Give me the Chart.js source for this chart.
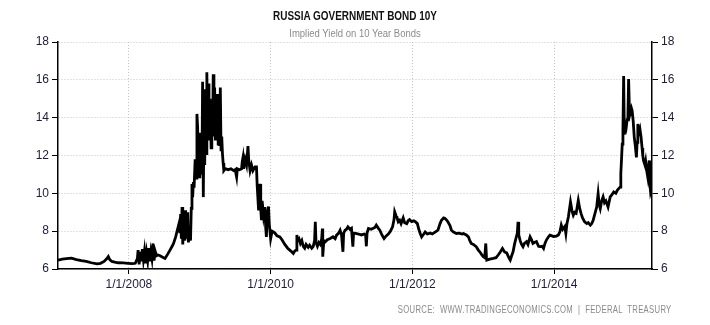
<!DOCTYPE html>
<html>
<head>
<meta charset="utf-8">
<script src="https://cdn.jsdelivr.net/npm/chart.js@4/dist/chart.umd.min.js"></script>
<style>
  body { margin: 0; background: #fff; }
  #wrap { position: relative; width: 710px; height: 325px; }
  #title { position: absolute; left: 0; width: 710px; top: 9px; text-align: center; font: bold 12px "Liberation Sans", Arial, sans-serif; color: #111; transform: scaleX(0.83); }
  #subtitle { position: absolute; left: 0; width: 710px; top: 28px; text-align: center; font: 10px "Liberation Sans", Arial, sans-serif; color: #8c8c8c; transform: scaleX(0.95); }
  #source { position: absolute; right: 38px; top: 304px; font: 10px "Liberation Sans", Arial, sans-serif; color: #8a8a8a; letter-spacing: 0.4px; white-space: pre; transform: scaleX(0.77); transform-origin: right center; }
</style>
</head>
<body>
<div id="wrap">
  <canvas id="bondChart" width="710" height="325"></canvas>
  <div id="title"></div>
  <div id="subtitle"></div>
  <div id="source"></div>
</div>
<script>
// chart text
const titleText = 'RUSSIA GOVERNMENT BOND 10Y';
const subtitleText = 'Implied Yield on 10 Year Bonds';
const sourceText = 'SOURCE:  WWW.TRADINGECONOMICS.COM  |  FEDERAL  TREASURY';

// axes
const xTicks = [2008, 2010, 2012, 2014];
const yTicks = [6, 8, 10, 12, 14, 16, 18];
const xMin = 2007, xMax = 2015.38;

// series: decimal year and yield (%)
const years = [
  2007.00, 2007.06, 2007.12, 2007.19, 2007.26, 2007.33, 2007.40, 2007.47, 2007.55, 2007.60,
  2007.65, 2007.69, 2007.71, 2007.73, 2007.76, 2007.80, 2007.85, 2007.92, 2007.99, 2008.05,
  2008.09, 2008.12, 2008.13, 2008.145, 2008.16, 2008.175, 2008.19, 2008.205, 2008.22, 2008.235,
  2008.25, 2008.265, 2008.28, 2008.295, 2008.31, 2008.325, 2008.34, 2008.355, 2008.37, 2008.39,
  2008.41, 2008.44, 2008.47, 2008.51, 2008.55, 2008.58, 2008.61, 2008.63, 2008.66, 2008.68,
  2008.70, 2008.71, 2008.72, 2008.73, 2008.74, 2008.75, 2008.76, 2008.775, 2008.79, 2008.80,
  2008.815, 2008.83, 2008.84, 2008.855, 2008.87, 2008.88, 2008.89, 2008.90, 2008.91, 2008.92,
  2008.935, 2008.95, 2008.96, 2008.97, 2008.98, 2008.99, 2009.00, 2009.015, 2009.03, 2009.04,
  2009.05, 2009.06, 2009.07, 2009.08, 2009.09, 2009.10, 2009.11, 2009.12, 2009.13, 2009.145,
  2009.16, 2009.17, 2009.18, 2009.19, 2009.20, 2009.21, 2009.22, 2009.23, 2009.24, 2009.25,
  2009.26, 2009.27, 2009.28, 2009.29, 2009.30, 2009.31, 2009.32, 2009.33, 2009.34, 2009.36,
  2009.40, 2009.44, 2009.48, 2009.50, 2009.52, 2009.53, 2009.56, 2009.59, 2009.60, 2009.61,
  2009.62, 2009.64, 2009.66, 2009.68, 2009.69, 2009.71, 2009.73, 2009.75, 2009.78, 2009.80,
  2009.81, 2009.83, 2009.84, 2009.85, 2009.86, 2009.87, 2009.88, 2009.90, 2009.92, 2009.93,
  2009.94, 2009.95, 2009.97, 2009.98, 2010.00, 2010.02, 2010.04, 2010.06, 2010.09, 2010.13,
  2010.16, 2010.20, 2010.24, 2010.27, 2010.30, 2010.32, 2010.34, 2010.36, 2010.37, 2010.38,
  2010.40, 2010.42, 2010.44, 2010.46, 2010.48, 2010.50, 2010.53, 2010.55, 2010.58, 2010.60,
  2010.62, 2010.63, 2010.64, 2010.66, 2010.68, 2010.70, 2010.72, 2010.73, 2010.735, 2010.75,
  2010.77, 2010.80, 2010.84, 2010.88, 2010.91, 2010.93, 2010.96, 2010.98, 2011.00, 2011.02,
  2011.03, 2011.05, 2011.07, 2011.09, 2011.12, 2011.14, 2011.16, 2011.17, 2011.20, 2011.24,
  2011.28, 2011.32, 2011.34, 2011.35, 2011.36, 2011.38, 2011.42, 2011.47, 2011.49, 2011.52,
  2011.54, 2011.57, 2011.60, 2011.63, 2011.66, 2011.69, 2011.72, 2011.74, 2011.75, 2011.77,
  2011.78, 2011.80, 2011.82, 2011.84, 2011.87, 2011.89, 2011.92, 2011.94, 2011.96, 2011.99,
  2012.02, 2012.04, 2012.07, 2012.09, 2012.11, 2012.13, 2012.16, 2012.18, 2012.21, 2012.25,
  2012.28, 2012.32, 2012.36, 2012.39, 2012.41, 2012.44, 2012.46, 2012.48, 2012.50, 2012.53,
  2012.55, 2012.58, 2012.62, 2012.66, 2012.70, 2012.72, 2012.76, 2012.79, 2012.81, 2012.83,
  2012.86, 2012.90, 2012.93, 2012.95, 2012.98, 2013.00, 2013.02, 2013.035, 2013.045, 2013.05,
  2013.09, 2013.14, 2013.18, 2013.21, 2013.24, 2013.27, 2013.30, 2013.33, 2013.36, 2013.38,
  2013.40, 2013.42, 2013.44, 2013.46, 2013.48, 2013.49, 2013.50, 2013.52, 2013.54, 2013.56,
  2013.58, 2013.61, 2013.63, 2013.66, 2013.68, 2013.70, 2013.72, 2013.75, 2013.78, 2013.80,
  2013.83, 2013.85, 2013.87, 2013.89, 2013.92, 2013.94, 2013.97, 2013.99, 2014.03, 2014.06,
  2014.08, 2014.10, 2014.12, 2014.15, 2014.165, 2014.18, 2014.20, 2014.23, 2014.25, 2014.27,
  2014.29, 2014.31, 2014.33, 2014.34, 2014.36, 2014.38, 2014.40, 2014.43, 2014.46, 2014.48,
  2014.51, 2014.53, 2014.55, 2014.58, 2014.60, 2014.62, 2014.635, 2014.65, 2014.67, 2014.69,
  2014.71, 2014.73, 2014.76, 2014.79, 2014.81, 2014.84, 2014.87, 2014.89, 2014.91, 2014.93,
  2014.94, 2014.95, 2014.96, 2014.97, 2014.98, 2014.99, 2015.00, 2015.01, 2015.02, 2015.03,
  2015.04, 2015.05, 2015.06, 2015.07, 2015.09, 2015.10, 2015.115, 2015.13, 2015.145, 2015.16,
  2015.17, 2015.18, 2015.195, 2015.21, 2015.225, 2015.24, 2015.25, 2015.26, 2015.28, 2015.29,
  2015.305, 2015.32, 2015.33, 2015.34, 2015.35, 2015.36, 2015.37
];
const yields = [
  6.47, 6.52, 6.55, 6.57, 6.50, 6.44, 6.40, 6.33, 6.27, 6.30,
  6.40, 6.55, 6.66, 6.50, 6.40, 6.36, 6.33, 6.32, 6.30, 6.28,
  6.30, 6.55, 7.00, 6.25, 6.90, 6.40, 7.05, 6.50, 6.95, 6.30,
  6.85, 6.45, 7.10, 6.40, 6.90, 6.55, 7.35, 6.45, 6.95, 6.70,
  6.74, 6.70, 6.64, 6.56, 6.80, 7.00, 7.20, 7.35, 7.70, 8.00,
  8.30, 8.45, 7.90, 8.90, 7.60, 9.28, 7.30, 8.60, 7.50, 9.10,
  7.60, 9.00, 7.40, 8.20, 7.50, 9.20, 10.50, 9.80, 10.60, 10.30,
  11.80, 10.80, 14.20, 13.50, 11.00, 13.20, 10.80, 12.00, 11.00, 15.90,
  9.80, 14.00, 11.50, 15.50, 12.10, 16.40, 13.00, 15.80, 12.80, 15.00,
  12.40, 14.50, 13.00, 16.30, 13.50, 15.60, 12.80, 14.80, 13.20, 15.25,
  12.60, 14.20, 12.50, 15.60, 12.30, 13.00, 12.10, 11.60, 11.20, 11.30,
  11.25, 11.30, 11.20, 11.25, 10.86, 11.30, 11.25, 11.30, 11.70, 11.90,
  11.30, 11.80, 11.50, 12.50, 11.80, 11.20, 11.50, 11.20, 11.40, 11.40,
  10.40, 9.10, 10.20, 10.50, 9.20, 8.58, 9.60, 8.80, 9.28, 8.20,
  7.70, 8.80, 9.30, 8.40, 7.60, 8.00, 7.96, 7.90, 7.75, 7.70,
  7.55, 7.30, 7.10, 7.00, 6.90, 6.82, 6.95, 7.00, 7.80, 7.50,
  7.60, 7.35, 7.50, 7.20, 7.10, 7.30, 7.15, 7.26, 7.10, 7.18,
  7.50, 8.49, 7.40, 7.20, 7.40, 7.30, 7.60, 8.14, 6.65, 7.50,
  7.44, 7.55, 7.61, 7.70, 7.60, 7.79, 7.90, 8.05, 7.80, 6.91,
  7.90, 8.05, 8.10, 8.23, 8.10, 8.15, 7.18, 7.90, 7.88, 7.85,
  7.80, 7.85, 7.79, 7.20, 7.90, 8.14, 8.10, 8.20, 8.32, 8.15,
  8.05, 7.80, 7.61, 7.75, 7.85, 8.00, 8.23, 8.60, 9.02, 8.80,
  8.75, 8.50, 8.58, 8.40, 8.70, 8.45, 8.40, 8.55, 8.61, 8.50,
  8.55, 8.50, 8.40, 8.10, 7.88, 7.70, 7.85, 7.96, 7.85, 7.90,
  7.85, 7.95, 8.05, 8.40, 8.58, 8.70, 8.67, 8.60, 8.50, 8.30,
  8.05, 7.95, 7.88, 7.90, 7.85, 7.88, 7.80, 7.70, 7.50, 7.35,
  7.30, 7.18, 7.00, 6.91, 6.75, 6.65, 6.60, 7.35, 6.60, 6.47,
  6.52, 6.56, 6.60, 6.74, 6.90, 7.09, 6.90, 6.85, 6.60, 6.47,
  6.70, 6.91, 7.30, 7.61, 7.90, 8.49, 7.80, 7.50, 7.30, 7.18,
  7.35, 7.44, 7.30, 7.70, 7.55, 7.35, 7.40, 7.45, 7.20, 7.18,
  7.20, 7.09, 7.35, 7.53, 7.70, 7.79, 7.75, 7.72, 7.74, 7.80,
  7.96, 8.32, 8.10, 8.25, 7.88, 8.40, 8.75, 9.54, 9.10, 8.84,
  9.00, 8.95, 9.40, 9.63, 9.20, 8.93, 8.70, 8.49, 8.40, 8.45,
  8.32, 8.40, 8.58, 9.00, 9.28, 9.98, 9.40, 9.19, 9.60, 9.81,
  9.50, 9.60, 9.28, 9.81, 9.90, 10.07, 10.00, 10.16, 10.25, 10.33,
  11.04, 11.80, 12.60, 13.30, 16.20, 13.10, 13.40, 13.84, 13.60, 13.90,
  14.00, 16.04, 14.60, 14.20, 14.50, 14.37, 13.80, 12.96, 12.50, 11.90,
  12.70, 13.67, 13.20, 13.40, 13.00, 12.40, 12.00, 11.74, 11.50, 11.70,
  11.20, 10.86, 11.30, 11.74, 10.50, 10.07, 10.20
];

document.getElementById('title').textContent = titleText;
document.getElementById('subtitle').textContent = subtitleText;
document.getElementById('source').textContent = sourceText;

const points = years.map((x, i) => ({ x, y: yields[i] }));

const tickFont = { family: 'Liberation Sans, Arial, sans-serif', size: 12 };
const tickColor = '#1c1c3c';
const gridColor = '#c4c4c4';

function yAxis(position, onChart) {
  return {
    type: 'linear',
    position,
    min: 6,
    max: 18,
    afterBuildTicks: s => { s.ticks = yTicks.map(v => ({ value: v })); },
    afterFit: s => { s.width = 58; },
    ticks: { font: tickFont, color: tickColor, padding: 3 },
    grid: { color: gridColor, lineWidth: 1, tickColor: '#000', tickLength: 6, drawOnChartArea: onChart },
    border: { color: '#000', width: 1.5, dash: [1, 2] }
  };
}

new Chart(document.getElementById('bondChart'), {
  type: 'line',
  data: {
    datasets: [{
      data: points,
      borderColor: '#000',
      borderWidth: 2.8,
      pointRadius: 0,
      tension: 0,
      yAxisID: 'y'
    }]
  },
  options: {
    responsive: false,
    animation: false,
    layout: { padding: { top: 42 } },
    plugins: {
      legend: { display: false },
      tooltip: { enabled: false }
    },
    scales: {
      x: {
        type: 'linear',
        min: xMin,
        max: xMax,
        afterBuildTicks: s => { s.ticks = xTicks.map(v => ({ value: v })); },
        afterFit: s => { s.height = 56; },
        ticks: { font: tickFont, color: tickColor, padding: 3, callback: v => '1/1/' + v },
        grid: { color: gridColor, lineWidth: 1, tickColor: '#000', tickLength: 5 },
        border: { color: '#000', width: 1.5, dash: [1, 2] }
      },
      y: yAxis('left', true),
      y2: yAxis('right', false)
    }
  }
});
</script>
</body>
</html>
